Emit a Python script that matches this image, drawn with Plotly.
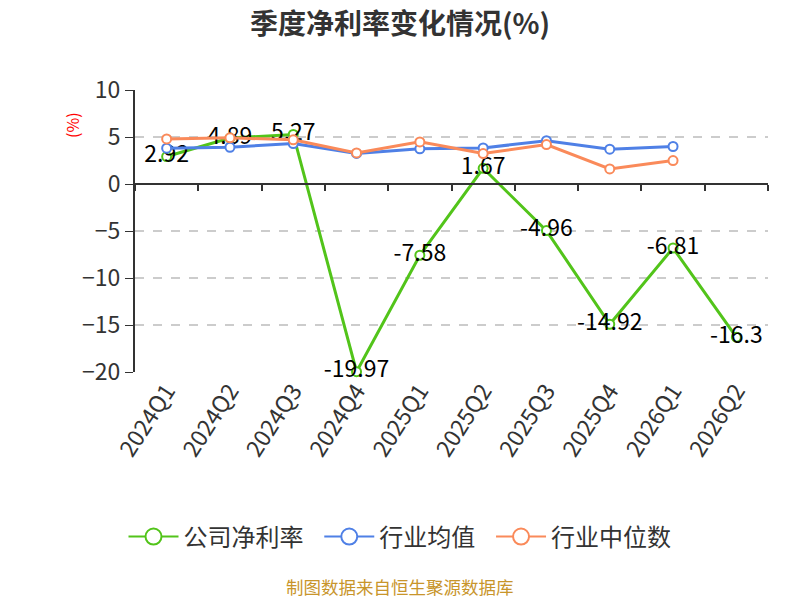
import plotly.graph_objects as go

quarters = ["2024Q1", "2024Q2", "2024Q3", "2024Q4", "2025Q1", "2025Q2", "2025Q3", "2025Q4", "2026Q1", "2026Q2"]
company = [2.92, 4.89, 5.27, -19.97, -7.58, 1.67, -4.96, -14.92, -6.81, -16.3]
industry_avg = [3.81, 3.91, 4.3, 3.25, 3.74, 3.84, 4.6, 3.7, 3.99, None]
industry_med = [4.8, 4.91, 4.7, 3.3, 4.48, 3.24, 4.2, 1.6, 2.49, None]
series_names = ["公司净利率", "行业均值", "行业中位数"]

FONT = "Noto Sans CJK SC"
GREEN = "#52C41A"
BLUE = "#4F80E6"
ORANGE = "#FA8A5A"
NBSP = "\u00a0\u00a0"

fig = go.Figure()

def add_series(name, y, color, labels=False, last=False):
    fig.add_trace(go.Scatter(
        x=quarters, y=y, name=name, showlegend=False,
        mode="lines+markers+text" if labels else "lines+markers",
        line=dict(color=color, width=3),
        marker=dict(symbol="circle", size=9, color="white", line=dict(color=color, width=2)),
        text=[f"{v:g}" for v in y] if labels else None,
        textposition="middle center",
        textfont=dict(size=23, color="#000", family=FONT),
        cliponaxis=False,
        connectgaps=False,
    ))
    # legend entry (larger symbol, like the reference)
    fig.add_trace(go.Scatter(
        x=quarters, y=[None] * len(quarters), name=name + ("" if last else NBSP),
        mode="lines+markers", line=dict(color=color, width=2),
        marker=dict(symbol="circle", size=17, color="white", line=dict(color=color, width=2)),
        hoverinfo="skip",
    ))

add_series(series_names[0], company, GREEN, labels=True)
add_series(series_names[1], industry_avg, BLUE)
add_series(series_names[2], industry_med, ORANGE, last=True)

# invisible trace for the zero-line category axis
fig.add_trace(go.Scatter(x=quarters, y=[0] * len(quarters), xaxis="x2", mode="markers",
                         marker=dict(opacity=0), showlegend=False, hoverinfo="skip"))

fig.update_layout(
    width=800, height=600,
    margin=dict(l=135, r=32, t=90, b=228),
    paper_bgcolor="white", plot_bgcolor="white",
    font=dict(family=FONT, color="#333"),
    title=dict(text="<b>季度净利率变化情况(%)</b>", x=0.5, xanchor="center", y=1 - 24 / 600, yanchor="middle",
               font=dict(size=28, color="#333", family=FONT)),
    xaxis=dict(type="category", range=[-0.5, 9.5], showgrid=False, showline=False, ticks="",
               tickangle=-57, tickfont=dict(size=23, color="#333"), zeroline=False),
    xaxis2=dict(type="category", range=[-0.5, 9.5], overlaying="x", anchor="free", position=2/3,
                side="bottom", showgrid=False, showline=True, linecolor="#333", linewidth=2,
                ticks="outside", ticklen=6, tickcolor="#333", tickwidth=1.5, tickson="boundaries",
                showticklabels=False, zeroline=False),
    yaxis=dict(range=[-20, 10], tickvals=[-20, -15, -10, -5, 0, 5, 10], showgrid=True,
               gridcolor="#CCCCCC", griddash="dash", gridwidth=1.5, zeroline=False,
               showline=True, linecolor="#333", linewidth=2, ticks="outside", ticklen=8,
               tickcolor="#333", tickfont=dict(size=23, color="#333")),
    legend=dict(orientation="h", x=(400 - 135) / 633, xanchor="center", y=-0.585, yanchor="middle",
                font=dict(size=24, color="#333"), itemwidth=50),
    showlegend=True,
)

fig.add_annotation(text="(%)", xref="paper", yref="paper", x=-0.0995, y=0.876, textangle=-90,
                   xanchor="center", yanchor="middle",
                   showarrow=False, font=dict(size=16, color="red", family=FONT))
fig.add_annotation(text="制图数据来自恒生聚源数据库", xref="paper", yref="paper", x=(400 - 135) / 633,
                   y=(372 - 586) / 282, xanchor="center", yanchor="middle", showarrow=False,
                   font=dict(size=17.5, color="#C8952B", family=FONT))

fig.write_html("out.html", config={"displayModeBar": False},
               post_script="document.body.style.margin='0';document.body.style.padding='0';")
